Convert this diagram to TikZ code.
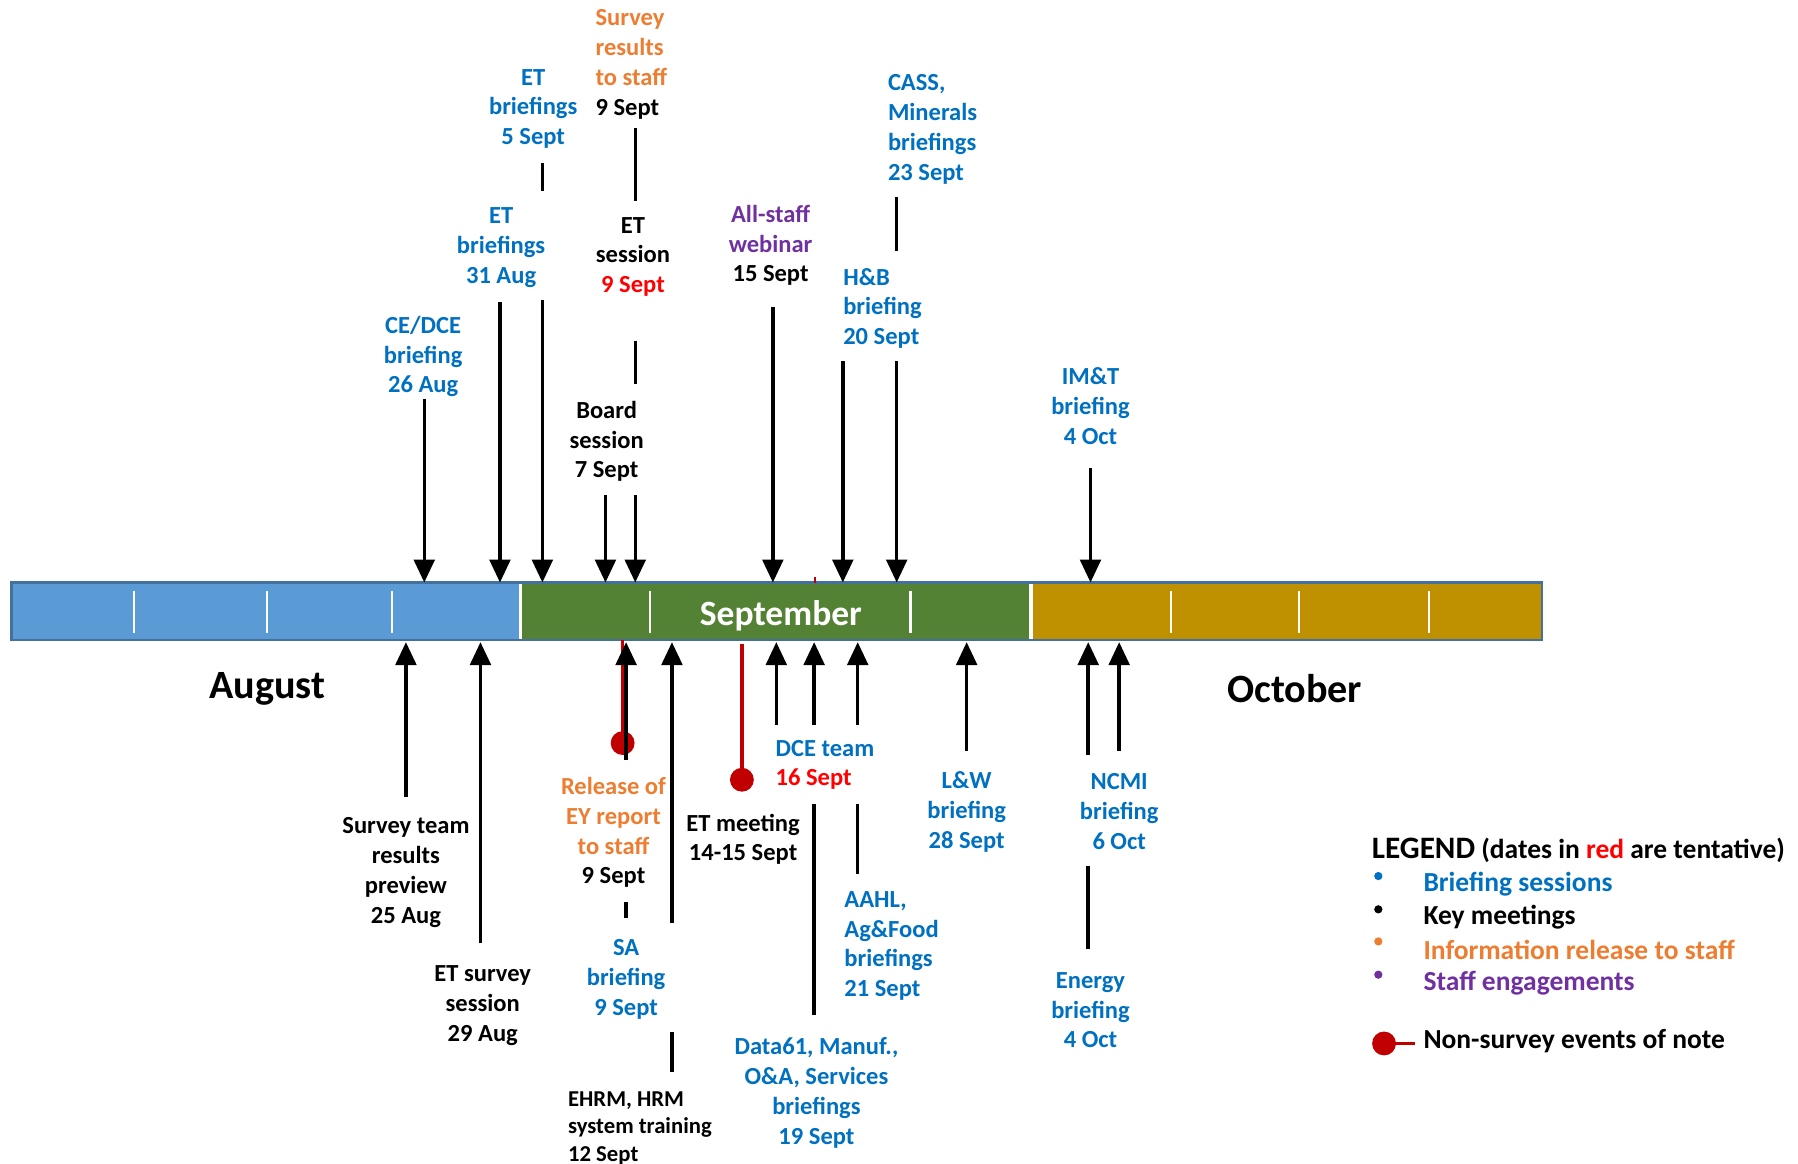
\documentclass[tikz,border=0pt]{standalone}
\usepackage{fontspec}
\setmainfont{Carlito}
\usetikzlibrary{arrows.meta}
\definecolor{cblue}{HTML}{0070C0}
\definecolor{corange}{HTML}{ED7D31}
\definecolor{cpurple}{HTML}{7030A0}
\definecolor{cred}{HTML}{FF0000}
\definecolor{cdred}{HTML}{C00000}
\definecolor{augc}{HTML}{5B9BD5}
\definecolor{sepc}{HTML}{548235}
\definecolor{octc}{HTML}{BF9000}
\definecolor{edgec}{HTML}{41719C}
\begin{document}
\begin{tikzpicture}[x=0.5pt,y=-0.5pt,
  lbl/.style={font=\bfseries\fontsize{10.7}{13}\selectfont, inner sep=0pt, align=center, yshift=-1pt},
  lbll/.style={lbl, align=left, anchor=west},
  small/.style={font=\bfseries\fontsize{9.9}{12}\selectfont, inner sep=0pt, align=left, anchor=west, yshift=-1pt},
  month/.style={font=\bfseries\fontsize{17.5}{20}\selectfont, inner sep=0pt, yshift=-1.2pt},
  arr/.style={line width=1.5pt, -{Triangle[width=9pt,length=10pt]}},
  seg/.style={line width=1.5pt},
  redl/.style={cdred, line width=1.5pt},
  tick/.style={white, line width=1pt},
  leg/.style={font=\bfseries\fontsize{12}{14}\selectfont, inner sep=0pt, anchor=west, yshift=-1pt}]
\useasboundingbox (0,0) rectangle (1568,1015);

% ---- bar ----
\fill[augc] (10,508) rectangle (454,558);
\fill[sepc] (454,508) rectangle (899,558);
\fill[octc] (899,508) rectangle (1345,558);
\draw[white, line width=1.5pt] (454,509) -- (454,557) (899,509) -- (899,557);
\foreach \x in {117,233,342,567,794,1021,1133,1246}
  \draw[tick] (\x,515) -- (\x,552);
\draw[edgec, line width=1pt] (10,508) rectangle (1345,558);
\node[month, white, font=\bfseries\fontsize{15.5}{18}\selectfont] (sepl) at (681,535) {September};
\node[month] (augl) at (233,598) {August};
\node[month] (octl) at (1129,598) {October};

% ---- labels above ----
\node[lbl, cblue] (ce) at (369,309) {CE/DCE\\briefing\\26 Aug};
\node[lbl, cblue] (et31) at (437,214) {ET\\briefings\\31 Aug};
\node[lbl, cblue] (et5) at (465,93) {ET\\briefings\\5 Sept};
\node[lbll, corange] (srv) at (519,54) {Survey\\results\\to staff\\{\color{black}9 Sept}};
\node[lbl] (ets) at (552,222) {ET\\session\\{\color{cred}9 Sept}};
\node[lbl] (board) at (529,383) {Board\\session\\7 Sept};
\node[lbl, cpurple] (web) at (672,212) {All-staff\\webinar\\{\color{black}15 Sept}};
\node[lbll, cblue] (hb) at (735,267) {H\&B\\briefing\\20 Sept};
\node[lbll, cblue] (cass) at (774,111) {CASS,\\Minerals\\briefings\\23 Sept};
\node[lbl, cblue] (imt) at (951,352) {IM\&T\\briefing\\4 Oct};

% ---- labels below ----
\node[lbl] (stm) at (354,759) {Survey team\\results\\preview\\25 Aug};
\node[lbl] (ets29) at (421,875) {ET survey\\session\\29 Aug};
\node[lbl, corange] (ey) at (535,724) {Release of\\EY report\\to staff\\{\color{black}9 Sept}};
\node[lbl, cblue] (sa) at (546,852) {SA\\briefing\\9 Sept};
\node[small] (ehrm) at (495,982) {EHRM, HRM\\system training\\12 Sept};
\node[lbl] (etm) at (648,730) {ET meeting\\14-15 Sept};
\node[lbll, cblue] (dce) at (676,665) {DCE team\\{\color{cred}16 Sept}};
\node[lbl, cblue] (data) at (712,951) {Data61, Manuf.,\\O\&A, Services\\briefings\\19 Sept};
\node[lbll, cblue] (aahl) at (736,823) {AAHL,\\Ag\&Food\\briefings\\21 Sept};
\node[lbl, cblue] (lw) at (843,706) {L\&W\\briefing\\28 Sept};
\node[lbl, cblue] (ncmi) at (976,706) {NCMI\\briefing\\6 Oct};
\node[lbl, cblue] (energy) at (951,879) {Energy\\briefing\\4 Oct};

% ---- red non-survey markers (drawn under black arrows) ----
\coordinate (r1a) at (543,558); \coordinate (r1b) at (543,648);
\draw[redl] (r1a) -- (r1b); \fill[cdred] (r1b) circle[radius=5.2pt];
\coordinate (r2a) at (647,562); \coordinate (r2b) at (647,680);
\draw[redl] (r2a) -- (r2b); \fill[cdred] (r2b) circle[radius=5.2pt];
\coordinate (r3a) at (711,503); \coordinate (r3b) at (711,508);
\draw[redl, line width=1pt] (r3a) -- (r3b);

% ---- arrows above the bar ----
\coordinate (ceS) at (370,348);  \coordinate (ceE) at (370,508);
\draw[arr] (ceS) -- (ceE);
\coordinate (e31S) at (436,263); \coordinate (e31E) at (436,508);
\draw[arr] (e31S) -- (e31E);
\coordinate (e5a) at (473,142); \coordinate (e5b) at (473,167);
\draw[seg] (e5a) -- (e5b);
\coordinate (e5S) at (473,262); \coordinate (e5E) at (473,508);
\draw[arr] (e5S) -- (e5E);
\coordinate (bdS) at (528,432); \coordinate (bdE) at (528,508);
\draw[arr] (bdS) -- (bdE);
\coordinate (srA) at (554,112); \coordinate (srB) at (554,175);
\draw[seg] (srA) -- (srB);
\coordinate (esA) at (554,297); \coordinate (esB) at (554,335);
\draw[seg] (esA) -- (esB);
\coordinate (esS) at (554,432); \coordinate (esE) at (554,508);
\draw[arr] (esS) -- (esE);
\coordinate (wbS) at (674,268); \coordinate (wbE) at (674,508);
\draw[arr] (wbS) -- (wbE);
\coordinate (hbS) at (735,315); \coordinate (hbE) at (735,508);
\draw[arr] (hbS) -- (hbE);
\coordinate (csA) at (782,172); \coordinate (csB) at (782,219);
\draw[seg] (csA) -- (csB);
\coordinate (csS) at (782,315); \coordinate (csE) at (782,508);
\draw[arr] (csS) -- (csE);
\coordinate (imS) at (951,408); \coordinate (imE) at (951,508);
\draw[arr] (imS) -- (imE);

% ---- arrows below the bar ----
\coordinate (stS) at (354,695); \coordinate (stE) at (354,560);
\draw[arr] (stS) -- (stE);
\coordinate (e29S) at (419,822); \coordinate (e29E) at (419,560);
\draw[arr] (e29S) -- (e29E);
\coordinate (eyS) at (546,663); \coordinate (eyE) at (546,560);
\draw[arr] (eyS) -- (eyE);
\coordinate (saA) at (546,787); \coordinate (saB) at (546,801);
\draw[seg] (saA) -- (saB);
\coordinate (ehS) at (586,805); \coordinate (ehE) at (586,560);
\draw[arr] (ehS) -- (ehE);
\coordinate (ehA) at (586,900); \coordinate (ehB) at (586,935);
\draw[seg] (ehA) -- (ehB);
\coordinate (dcS) at (677,632); \coordinate (dcE) at (677,560);
\draw[arr] (dcS) -- (dcE);
\coordinate (d6S) at (710,632); \coordinate (d6E) at (710,560);
\draw[arr] (d6S) -- (d6E);
\coordinate (d6A) at (710,701); \coordinate (d6B) at (710,885);
\draw[seg] (d6A) -- (d6B);
\coordinate (ahS) at (748,632); \coordinate (ahE) at (748,560);
\draw[arr] (ahS) -- (ahE);
\coordinate (ahA) at (748,701); \coordinate (ahB) at (748,762);
\draw[seg] (ahA) -- (ahB);
\coordinate (lwS) at (843,655); \coordinate (lwE) at (843,560);
\draw[arr] (lwS) -- (lwE);
\coordinate (enS) at (949,658); \coordinate (enE) at (949,560);
\draw[arr] (enS) -- (enE);
\coordinate (enA) at (949,755); \coordinate (enB) at (949,828);
\draw[seg] (enA) -- (enB);
\coordinate (ncS) at (976,655); \coordinate (ncE) at (976,560);
\draw[arr] (ncS) -- (ncE);

% ---- legend ----
\node[leg] (legt) at (1196,740) {{\fontsize{13.6}{16}\selectfont LEGEND} (dates in {\color{cred}red} are tentative)};
\fill[cblue] (1202,764) circle[radius=1.8pt];
\fill[black] (1202,793) circle[radius=1.8pt];
\fill[corange] (1202,821) circle[radius=1.8pt];
\fill[cpurple] (1202,850) circle[radius=1.8pt];
\node[leg, cblue] (l1) at (1241,769) {Briefing sessions};
\node[leg] (l2) at (1241,798) {Key meetings};
\node[leg, corange] (l3) at (1241,826) {Information release to staff};
\node[leg, cpurple] (l4) at (1241,855) {Staff engagements};
\coordinate (ldot) at (1207,910); \coordinate (lend) at (1234,910);
\draw[redl] (ldot) -- (lend);
\fill[cdred] (ldot) circle[radius=5.2pt];
\node[leg] (l5) at (1241,906) {Non-survey events of note};
\end{tikzpicture}
\end{document}
